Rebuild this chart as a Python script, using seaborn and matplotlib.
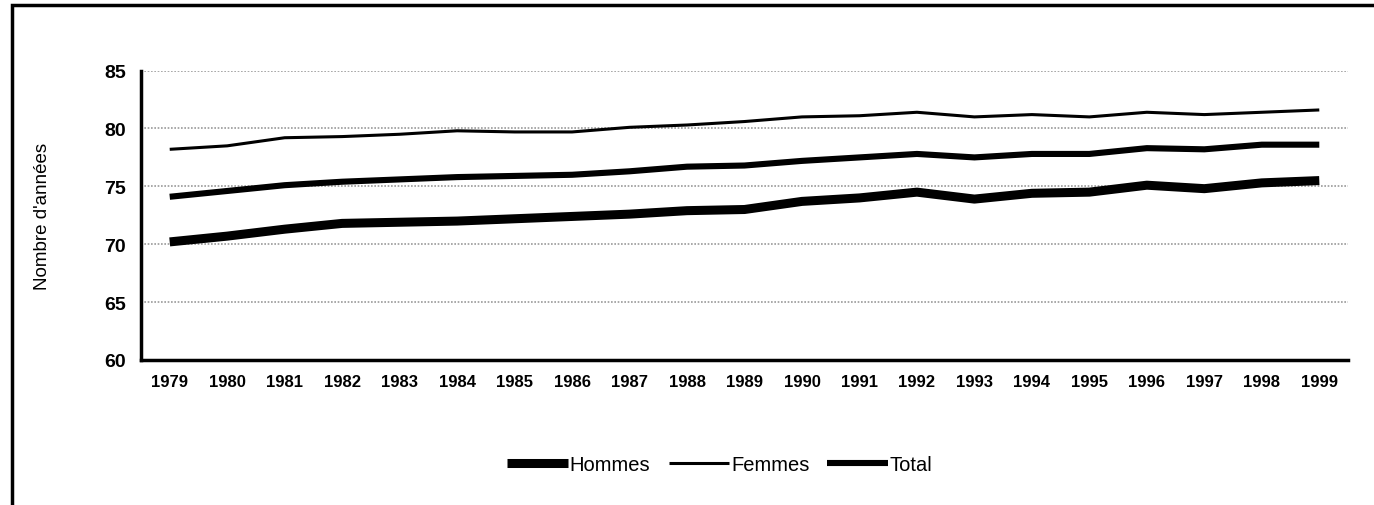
import pandas as pd
import matplotlib
matplotlib.use("Agg")
import matplotlib.pyplot as plt
import seaborn as sns
from matplotlib.patches import Rectangle
from matplotlib.ticker import FixedLocator

years = [1979, 1980, 1981, 1982, 1983, 1984, 1985, 1986, 1987, 1988, 1989,
         1990, 1991, 1992, 1993, 1994, 1995, 1996, 1997, 1998, 1999]
hommes = [70.2, 70.7, 71.3, 71.8, 71.9, 72.0, 72.2, 72.4, 72.6, 72.9, 73.0,
          73.7, 74.0, 74.5, 73.9, 74.4, 74.5, 75.1, 74.8, 75.3, 75.5]
femmes = [78.2, 78.5, 79.2, 79.3, 79.5, 79.8, 79.7, 79.7, 80.1, 80.3, 80.6,
          81.0, 81.1, 81.4, 81.0, 81.2, 81.0, 81.4, 81.2, 81.4, 81.6]
total = [74.1, 74.6, 75.1, 75.4, 75.6, 75.8, 75.9, 76.0, 76.3, 76.7, 76.8,
         77.2, 77.5, 77.8, 77.5, 77.8, 77.8, 78.3, 78.2, 78.6, 78.6]

series_names = ["Hommes", "Femmes", "Total"]
widths = {"Hommes": 6.5, "Femmes": 2.2, "Total": 4.4}

df = pd.DataFrame({
    "idx": list(range(len(years))) * 3,
    "valeur": hommes + femmes + total,
    "serie": [n for n in series_names for _ in years],
})

sns.set_style("white")
plt.rcParams["font.family"] = ["Liberation Sans", "DejaVu Sans"]
plt.rcParams.update({
    "text.color": "black",
    "axes.labelcolor": "black",
    "xtick.color": "black",
    "ytick.color": "black",
})

fig = plt.figure(figsize=(13.74, 5.06), dpi=100)
ax = fig.add_axes([0.1026, 0.2866, 0.8785, 0.5719])

sns.lineplot(
    data=df,
    x="idx",
    y="valeur",
    hue="serie",
    palette={n: "black" for n in series_names},
    legend=False,
    ax=ax,
)
for line, name in zip(ax.get_lines(), series_names):
    line.set_linewidth(widths[name])
    line.set_solid_capstyle("butt")

ax.set_xlim(-0.5, len(years) - 0.5)
ax.set_ylim(60, 85)
ax.set_yticks([60, 65, 70, 75, 80, 85])
ax.set_yticklabels(["60", "65", "70", "75", "80", "85"],
                   fontsize=14, fontweight="bold")
ax.set_xticks(range(len(years)))
ax.set_xticklabels([str(y) for y in years], fontsize=12, fontweight="bold")
ax.xaxis.set_minor_locator(FixedLocator([i + 0.5 for i in range(len(years))]))
ax.tick_params(axis="x", which="major", length=0, pad=10)
ax.tick_params(axis="x", which="minor", length=6, width=2.5, color="black")
ax.tick_params(axis="y", which="major", length=5, width=2.5, color="black", pad=6)

ax.yaxis.grid(True, linestyle=(0, (1, 1)), color="#999999", linewidth=1.2)
ax.xaxis.grid(False)
for side in ["top", "right"]:
    ax.spines[side].set_visible(False)
for side in ["left", "bottom"]:
    ax.spines[side].set_color("black")
    ax.spines[side].set_linewidth(2.5)

ax.set_xlabel("")
ax.set_ylabel("Nombre d'années", fontsize=13.5, labelpad=38)

handles = [plt.Line2D([], [], color="black", lw=widths[n], solid_capstyle="butt")
           for n in series_names]
fig.legend(handles, series_names, loc="center", bbox_to_anchor=(0.524, 0.080),
           ncol=3, frameon=False, fontsize=14.5, handlelength=3.0,
           handletextpad=0.1, columnspacing=0.9)

fig.patches.append(Rectangle((0.009, -0.1), 1.2, 1.088, transform=fig.transFigure,
                             fill=False, edgecolor="black", linewidth=2.5))

fig.savefig("out.png", dpi=100)
